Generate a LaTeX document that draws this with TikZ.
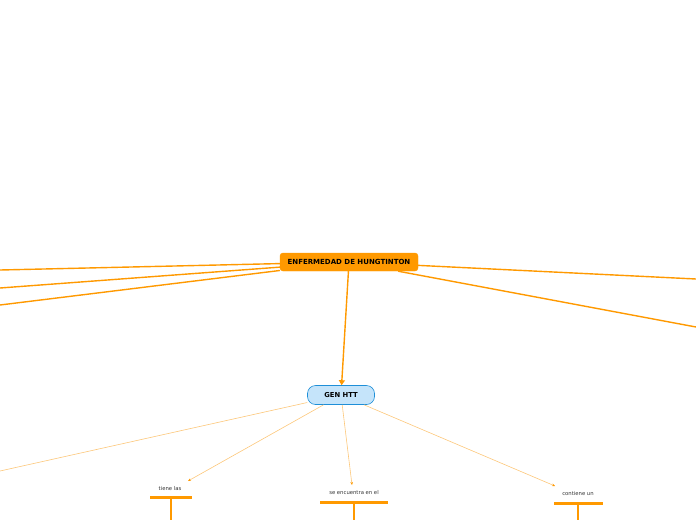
\documentclass[tikz,border=0pt]{standalone}
\usepackage{fontspec}
\setmainfont{DejaVu Sans}
\usetikzlibrary{arrows.meta}
\definecolor{mainor}{HTML}{FF9900}
\definecolor{lightor}{HTML}{FCC77A}
\definecolor{genfill}{HTML}{C5E4FA}
\definecolor{genline}{HTML}{1E8FD8}
\tikzset{
  mainbox/.style={draw=mainor,fill=mainor,rounded corners=3pt,minimum width=138pt,minimum height=18pt,inner sep=0pt,font=\fontsize{7}{8}\selectfont\bfseries},
  genbox/.style={draw=genline,fill=genfill,rounded corners=8pt,minimum width=67pt,minimum height=19pt,inner sep=0pt,line width=0.6pt,font=\fontsize{6.8}{8}\selectfont\bfseries},
  thick conn/.style={draw=mainor,line width=1.4pt},
  thin conn/.style={draw=lightor,line width=0.6pt,-{Stealth[length=3pt,width=2.5pt,color=mainor]}},
  lbl/.style={font=\fontsize{5.3}{6}\selectfont,text=black!80,inner sep=0pt},
  bar/.style={fill=mainor,inner sep=0pt,minimum height=2.6pt},
  stem/.style={draw=mainor,line width=1.2pt}
}
\begin{document}
\begin{tikzpicture}[x=1pt,y=-1pt]
\useasboundingbox (0,0) rectangle (696,520);
\node[mainbox] (main) at (349,262) {ENFERMEDAD DE HUNGTINTON};
\node[genbox] (gen) at (341,395) {GEN HTT};
\coordinate (l1) at (0,270);
\coordinate (l2) at (0,288);
\coordinate (l3) at (0,305);
\coordinate (r1) at (696,279);
\coordinate (r2) at (696,327);
\draw[thick conn] (main) -- (l1);
\draw[thick conn] (main) -- (l2);
\draw[thick conn] (main) -- (l3);
\draw[thick conn] (main) -- (r1);
\draw[thick conn] (main) -- (r2);
\draw[thick conn,-{Triangle[length=5pt,width=6pt]}] (main) -- (gen);
\coordinate (g0) at (0,471);
\coordinate (g1) at (188,481);
\coordinate (g2) at (352,485);
\coordinate (g3) at (555,486);
\draw[draw=lightor,line width=0.6pt] (gen) -- (g0);
\draw[thin conn] (gen) -- (g1);
\draw[thin conn] (gen) -- (g2);
\draw[thin conn] (gen) -- (g3);
\node[lbl] (t1) at (170,489) {tiene las};
\node[bar,minimum width=42pt] (b1) at (171,497.5) {};
\coordinate (e1) at (171,520);
\draw[stem] (b1) -- (e1);
\node[lbl] (t2) at (354,493) {se encuentra en el};
\node[bar,minimum width=68pt] (b2) at (354,502.5) {};
\coordinate (e2) at (354,520);
\draw[stem] (b2) -- (e2);
\node[lbl] (t3) at (578,494) {contiene un};
\node[bar,minimum width=49pt] (b3) at (578,503.5) {};
\coordinate (e3) at (578,520);
\draw[stem] (b3) -- (e3);
\end{tikzpicture}
\end{document}
